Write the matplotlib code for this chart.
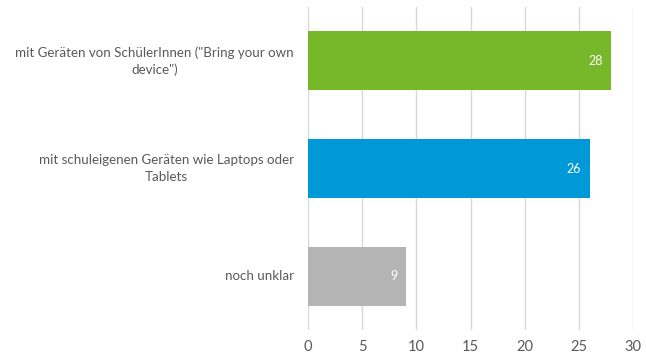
import matplotlib.pyplot as plt

categories = [
    'mit Geräten von SchülerInnen ("Bring your own\ndevice")',
    "mit schuleigenen Geräten wie Laptops oder\nTablets",
    "noch unklar",
]
values = [28, 26, 9]
colors = ["#77B82A", "#0099D8", "#B4B4B4"]
xticks = [0, 5, 10, 15, 20, 25, 30]

plt.rcParams["font.family"] = "Lato"

fig = plt.figure(figsize=(6.46, 3.58), dpi=100)
ax = fig.add_axes([308 / 646, 1 - 330 / 358, 325 / 646, 323 / 358])

ypos = list(range(len(categories)))
bars = ax.barh(ypos, values, height=0.55, color=colors, zorder=3)

for b, v in zip(bars, values):
    ax.annotate(str(v), (b.get_width(), b.get_y() + b.get_height() / 2),
                xytext=(-6, 0), textcoords="offset points",
                ha="right", va="center", color="white", fontsize=9, zorder=4)

ax.set_xlim(0, 30)
ax.set_ylim(2.5, -0.5)
ax.set_xticks(xticks)
ax.set_yticks([])
ax.tick_params(axis="x", length=0, pad=7, labelsize=10.5, labelcolor="#595959")
ax.grid(axis="x", color="#D9D9D9", linewidth=1, zorder=0)
for s in ax.spines.values():
    s.set_visible(False)

# category labels: block right-aligned to the axis, each line centred in it
renderer = fig.canvas.get_renderer()
gap, line_h = 14, 17
lab_kw = dict(xycoords=("axes fraction", "data"), textcoords="offset pixels",
              va="center", ha="right", fontsize=9.6, color="#595959")
for y, lab in zip(ypos, categories):
    lines = lab.split("\n")
    offs = [(len(lines) - 1) / 2 * line_h - i * line_h for i in range(len(lines))]
    widths = []
    for ln in lines:
        t = ax.annotate(ln, (0, y), xytext=(-gap, 0), **lab_kw)
        widths.append(t.get_window_extent(renderer).width)
        t.remove()
    block_w = max(widths)
    for ln, w, dy in zip(lines, widths, offs):
        ax.annotate(ln, (0, y), xytext=(-gap - (block_w - w) / 2, dy), **lab_kw)

fig.savefig("out.png", dpi=100)
